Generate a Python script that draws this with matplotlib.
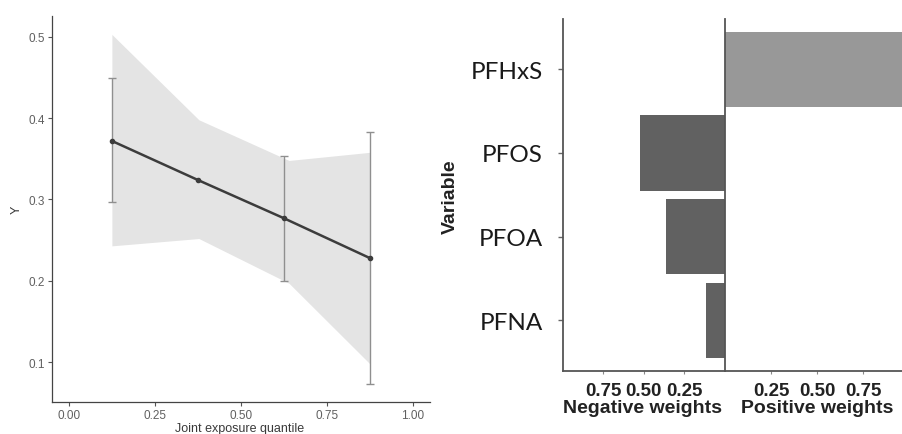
import matplotlib
matplotlib.use("Agg")
import matplotlib.pyplot as plt

plt.rcParams["font.family"] = ["Liberation Sans", "DejaVu Sans"]

# left panel: joint exposure response
quantile = [0.125, 0.375, 0.625, 0.875]
estimate = [0.372, 0.324, 0.277, 0.228]
err_x = [0.125, 0.625, 0.875]
err_low = [0.297, 0.200, 0.073]
err_high = [0.450, 0.353, 0.383]
band_x = [0.125, 0.378, 0.640, 0.875]
band_low = [0.243, 0.252, 0.197, 0.098]
band_high = [0.503, 0.398, 0.348, 0.358]
x_ticks = [0.00, 0.25, 0.50, 0.75, 1.00]
y_ticks = [0.1, 0.2, 0.3, 0.4, 0.5]

# right panel: weights
variables = ["PFNA", "PFOA", "PFOS", "PFHxS"]
neg_weights = [0.118, 0.362, 0.521, 0.0]
pos_weights = [0.0, 0.0, 0.0, 1.0]
w_ticks = [0.25, 0.50, 0.75]

W, H = 902, 435
fig = plt.figure(figsize=(W / 100, H / 100), dpi=100)


def box(x0, y0, x1, y1):
    # pixel box (top-left origin) -> figure fraction rect
    return [x0 / W, (H - y1) / H, (x1 - x0) / W, (y1 - y0) / H]


# ---- left panel ----
ax1 = fig.add_axes(box(51.7, 16.7, 430, 403))
ax1.fill_between(band_x, band_low, band_high, color="#e4e4e4", lw=0, zorder=1)
mid = [(l + h) / 2 for l, h in zip(err_low, err_high)]
ax1.errorbar(err_x, mid, yerr=[[m - l for m, l in zip(mid, err_low)],
                               [h - m for m, h in zip(mid, err_high)]],
             fmt="none", ecolor="#8f8f8f", elinewidth=1.0, capsize=3, capthick=1.0,
             zorder=2)
ax1.plot(quantile, estimate, color="#3c3c3c", lw=1.8, marker="o", ms=3, zorder=3)
ax1.set_xlim(-0.05, 1.05)
ax1.set_ylim(0.051, 0.526)
ax1.set_xticks(x_ticks)
ax1.set_xticklabels([f"{t:.2f}" for t in x_ticks])
ax1.set_yticks(y_ticks)
ax1.set_yticklabels([f"{t:.1f}" for t in y_ticks])
for s in ["top", "right"]:
    ax1.spines[s].set_visible(False)
for s in ["left", "bottom"]:
    ax1.spines[s].set_color("#444444")
    ax1.spines[s].set_linewidth(0.9)
ax1.tick_params(length=3, width=0.8, color="#555555", labelcolor="#606060",
                labelsize=8.5, pad=2)
fig.text(240 / W, 1 - 432 / H, "Joint exposure quantile", ha="center",
         va="baseline", fontsize=9, color="#3a3a3a")
fig.text(17 / W, 1 - 210 / H, "Y", ha="center", va="center", rotation=90,
         fontsize=9, color="#3a3a3a")

# ---- right panel: negative weights ----
ax2 = fig.add_axes(box(562.7, 20, 725, 371.7))
ax2.barh(range(1, 5), neg_weights, height=0.9, color="#616161", zorder=2)
ax2.set_xlim(1.0, 0)
ax2.set_ylim(0.4, 4.6)
ax2.set_yticks(range(1, 5))
ax2.set_yticklabels(variables, fontsize=17.5, family="Lato", color="#1a1a1a")
ax2.set_xticks(w_ticks)
ax2.set_xticklabels([f"{t:.2f}" for t in w_ticks])
for s in ["top", "right"]:
    ax2.spines[s].set_visible(False)
for s in ["left", "bottom"]:
    ax2.spines[s].set_color("#555555")
    ax2.spines[s].set_linewidth(1.3)
ax2.tick_params(axis="y", length=3.5, width=1, color="#666666", pad=11)
ax2.tick_params(axis="x", length=2.2, width=0.8, color="#888888", pad=6,
                labelsize=13.5)
for lab in ax2.get_xticklabels():
    lab.set_fontweight("bold")
    lab.set_color("#222222")

# ---- right panel: positive weights ----
ax3 = fig.add_axes(box(725, 20, 909, 371.7))
ax3.barh(range(1, 5), pos_weights, height=0.9, color="#989898", zorder=2)
ax3.set_xlim(0, 1.0)
ax3.set_ylim(0.4, 4.6)
ax3.set_yticks([])
ax3.set_xticks(w_ticks)
ax3.set_xticklabels([f"{t:.2f}" for t in w_ticks])
for s in ["top", "right"]:
    ax3.spines[s].set_visible(False)
for s in ["left", "bottom"]:
    ax3.spines[s].set_color("#555555")
    ax3.spines[s].set_linewidth(1.3)
ax3.spines["left"].set_zorder(3)
ax3.tick_params(axis="x", length=2.2, width=0.8, color="#888888", pad=6,
                labelsize=13.5)
for lab in ax3.get_xticklabels():
    lab.set_fontweight("bold")
    lab.set_color("#222222")

fig.text(642.5 / W, 1 - 408.3 / H, "Negative weights", ha="center", va="center",
         fontsize=14, fontweight="bold", color="#222222")
fig.text(816.7 / W, 1 - 408.3 / H, "Positive weights", ha="center", va="center",
         fontsize=14, fontweight="bold", color="#222222")
fig.text(450 / W, 1 - 197 / H, "Variable", ha="center", va="center", rotation=90,
         fontsize=14, fontweight="bold", color="#222222")

fig.savefig("out.png", dpi=100)
